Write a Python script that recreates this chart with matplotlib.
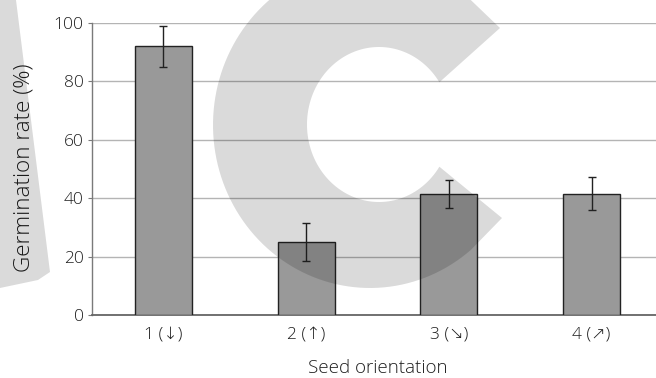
import numpy as np
import matplotlib
matplotlib.use("Agg")
import matplotlib.pyplot as plt
from matplotlib.patches import Polygon
from matplotlib.transforms import Affine2D

orientations = ["1 (↓)", "2 (↑)", "3 (↘)", "4 (↗)"]
germination = [92, 25, 41.6, 41.6]
errors = [7, 6.6, 4.8, 5.6]

W, H = 656, 378
plt.rcParams["font.family"] = ["Open Sans", "DejaVu Sans"]
plt.rcParams["font.weight"] = "light"
plt.rcParams["axes.labelweight"] = "light"

fig = plt.figure(figsize=(W / 100, H / 100), dpi=100)
ax = fig.add_axes([92 / W, 63 / H, 571 / W, 292 / H])

x = np.arange(len(orientations))
ax.bar(x, germination, width=0.4, color="#999999", edgecolor="#222222",
       linewidth=1.0, zorder=3)
ax.errorbar(x, germination, yerr=errors, fmt="none", ecolor="#222222",
            elinewidth=1.0, capsize=2.6, capthick=1.0, zorder=4)

ax.set_xlim(-0.5, 3.5)
ax.set_ylim(0, 100)
ax.set_yticks(range(0, 101, 20))
ax.set_xticks(x)
ax.set_xticklabels(orientations)
ax.yaxis.grid(True, color="#b4b4b4", linewidth=1.0, zorder=0)
ax.set_axisbelow(True)

for side in ("top", "right"):
    ax.spines[side].set_visible(False)
ax.spines["left"].set_color("#7a7a7a")
ax.spines["left"].set_linewidth(1.0)
ax.spines["bottom"].set_color("#666666")
ax.spines["bottom"].set_linewidth(1.3)

ax.tick_params(axis="y", length=3, width=0.8, color="#7a7a7a", pad=3,
               labelsize=12.5, labelcolor="#1e1e1e")
ax.tick_params(axis="x", length=0, pad=8, labelsize=12.5,
               labelcolor="#1e1e1e")
ax.set_ylabel("Germination rate (%)", fontsize=16.2, color="#1e1e1e")
ax.yaxis.set_label_coords(-0.1, 0.505)
ax.set_xlabel("Seed orientation", fontsize=13.5, color="#1e1e1e", labelpad=12)

# light grey watermark behind the chart, drawn in pixel space
px = Affine2D().scale(1 / W, -1 / H).translate(0, 1) + fig.transFigure

t_out = np.radians(np.linspace(310, 50, 120))
outer = np.column_stack([370 + 157 * np.cos(t_out), 125 + 163 * np.sin(t_out)])
t_in = np.radians(np.linspace(33, 327, 120))
inner = np.column_stack([379 + 72 * np.cos(t_in), 124.5 + 77.5 * np.sin(t_in)])
c_shape = np.vstack([outer, [[502, 218]], inner, [[500, 28]]])
fig.add_artist(Polygon(c_shape, closed=True, facecolor="black", alpha=0.145,
                       edgecolor="none", transform=px, zorder=10))

wedge = [(0, 0), (16, 0), (50, 272), (38, 280), (0, 288)]
fig.add_artist(Polygon(wedge, closed=True, facecolor="black", alpha=0.145,
                       edgecolor="none", transform=px, zorder=10))

fig.savefig("out.png", dpi=100)
